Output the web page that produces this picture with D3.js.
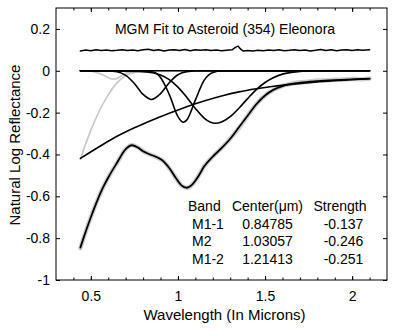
<!DOCTYPE html>
<html>
<head>
<meta charset="utf-8">
<script src="https://cdn.jsdelivr.net/npm/d3@7"></script>
<style>
  body { margin: 0; background: #fff; }
  svg text { font-family: "Liberation Sans", Arial, Helvetica, sans-serif; fill: #000; }
  .axis path { display: none; }
  .axis line { stroke: #000; stroke-width: 1; }
  .axis text { font-size: 14px; }
</style>
</head>
<body>
<div id="chart"></div>
<script>
// Tick labels
var xTicks = [0.5, 1, 1.5, 2];
var yTicks = [0.2, 0, -0.2, -0.4, -0.6, -0.8, -1];

// Residual (offset to ~0.1)
var residWl  = [0.44, 0.47, 0.50, 0.53, 0.56, 0.59, 0.62, 0.65, 0.68, 0.71, 0.74, 0.77, 0.80, 0.83, 0.86, 0.89, 0.92, 0.95, 0.98, 1.01, 1.04, 1.07, 1.10, 1.13, 1.16, 1.19, 1.22, 1.25, 1.28, 1.31, 1.33, 1.345, 1.36, 1.375, 1.40, 1.43, 1.46, 1.49, 1.52, 1.55, 1.58, 1.61, 1.64, 1.67, 1.70, 1.73, 1.76, 1.79, 1.82, 1.85, 1.88, 1.91, 1.94, 1.97, 2.00, 2.03, 2.06, 2.10];
var residVal = [0.094, 0.099, 0.096, 0.100, 0.097, 0.099, 0.096, 0.098, 0.101, 0.097, 0.099, 0.096, 0.100, 0.103, 0.097, 0.100, 0.095, 0.099, 0.101, 0.097, 0.102, 0.096, 0.100, 0.098, 0.101, 0.097, 0.099, 0.096, 0.098, 0.100, 0.112, 0.118, 0.103, 0.094, 0.097, 0.095, 0.098, 0.096, 0.099, 0.097, 0.100, 0.096, 0.098, 0.101, 0.097, 0.099, 0.095, 0.098, 0.102, 0.097, 0.100, 0.096, 0.099, 0.101, 0.097, 0.100, 0.098, 0.100];

// Zero line
var zeroWl  = [0.44, 2.10];
var zeroVal = [0, 0];

// Gray bands (UV and small 0.63 band)
var uvWl  = [0.44, 0.47, 0.50, 0.55, 0.60, 0.65, 0.70, 0.75, 0.80, 0.85, 2.10];
var uvVal = [-0.424, -0.35, -0.285, -0.19, -0.115, -0.058, -0.024, -0.008, -0.002, 0, 0];
var smallWl  = [0.44, 0.50, 0.55, 0.58, 0.61, 0.63, 0.65, 0.68, 0.71, 0.75, 0.80, 2.10];
var smallVal = [0, -0.002, -0.013, -0.024, -0.037, -0.04, -0.037, -0.022, -0.01, -0.002, 0, 0];

// Black bands
var m11Wl  = [0.44, 0.60, 0.65, 0.70, 0.75, 0.80, 0.848, 0.90, 0.95, 1.00, 1.05, 1.10, 2.10];
var m11Val = [0, -0.001, -0.005, -0.022, -0.061, -0.113, -0.137, -0.109, -0.057, -0.019, -0.004, -0.001, 0];
var m2Wl  = [0.44, 0.85, 0.90, 0.95, 1.00, 1.031, 1.05, 1.10, 1.15, 1.20, 1.25, 2.10];
var m2Val = [0, -0.005, -0.032, -0.113, -0.219, -0.246, -0.236, -0.140, -0.046, -0.008, -0.001, 0];
var m12Wl  = [0.44, 0.75, 0.80, 0.85, 0.90, 0.95, 1.00, 1.05, 1.10, 1.15, 1.214, 1.25, 1.30, 1.35, 1.40, 1.45, 1.50, 1.55, 1.60, 1.65, 1.70, 1.75, 1.80, 2.10];
var m12Val = [0, -0.001, -0.003, -0.009, -0.020, -0.042, -0.078, -0.126, -0.180, -0.226, -0.251, -0.245, -0.219, -0.179, -0.133, -0.090, -0.056, -0.032, -0.016, -0.008, -0.003, -0.001, 0, 0];

// Continuum
var contWl  = [0.44, 0.55, 0.65, 0.75, 0.85, 0.95, 1.05, 1.15, 1.25, 1.35, 1.45, 1.55, 1.65, 1.75, 1.85, 1.95, 2.05, 2.10];
var contVal = [-0.419, -0.362, -0.313, -0.272, -0.236, -0.203, -0.172, -0.145, -0.121, -0.101, -0.086, -0.074, -0.065, -0.057, -0.050, -0.045, -0.040, -0.038];

// Spectrum (observed, gray) and MGM fit (black)
var obsWl  = [0.44, 0.47, 0.50, 0.53, 0.56, 0.60, 0.65, 0.70, 0.735, 0.77, 0.80, 0.84, 0.88, 0.91, 0.95, 0.99, 1.02, 1.05, 1.08, 1.12, 1.15, 1.20, 1.25, 1.30, 1.34, 1.40, 1.45, 1.50, 1.55, 1.60, 1.65, 1.70, 1.75, 1.80, 1.85, 1.90, 1.95, 2.00, 2.05, 2.10];
var obsVal = [-0.848, -0.77, -0.70, -0.635, -0.575, -0.51, -0.44, -0.375, -0.355, -0.366, -0.384, -0.40, -0.414, -0.428, -0.465, -0.515, -0.548, -0.560, -0.545, -0.500, -0.458, -0.41, -0.37, -0.325, -0.285, -0.215, -0.16, -0.118, -0.090, -0.072, -0.062, -0.055, -0.052, -0.047, -0.046, -0.043, -0.042, -0.039, -0.040, -0.037];
var fitWl  = [0.44, 0.47, 0.50, 0.53, 0.56, 0.60, 0.65, 0.70, 0.735, 0.77, 0.80, 0.84, 0.88, 0.91, 0.95, 0.99, 1.02, 1.05, 1.08, 1.12, 1.15, 1.20, 1.25, 1.30, 1.35, 1.40, 1.45, 1.50, 1.55, 1.60, 1.65, 1.70, 1.80, 1.90, 2.00, 2.10];
var fitVal = [-0.845, -0.77, -0.70, -0.635, -0.575, -0.51, -0.44, -0.375, -0.356, -0.367, -0.385, -0.40, -0.413, -0.428, -0.465, -0.515, -0.548, -0.559, -0.545, -0.500, -0.458, -0.41, -0.37, -0.325, -0.27, -0.215, -0.16, -0.118, -0.090, -0.073, -0.063, -0.057, -0.050, -0.045, -0.041, -0.038];

// Band table
var bandNames     = ["M1-1", "M2", "M1-2"];
var bandCenters   = ["0.84785", "1.03057", "1.21413"];
var bandStrengths = ["-0.137", "-0.246", "-0.251"];

function pairs(xs, ys) {
  return xs.map(function(d, i) { return [d, ys[i]]; });
}

// Margin conventions
var margin = {top: 8, right: 16, bottom: 51, left: 56};
var width = 403 - margin.left - margin.right,
    height = 331 - margin.top - margin.bottom;

var svg = d3.select("#chart")
            .append("svg")
            .attr("width", 403)
            .attr("height", 331)
            .append("g")
            .attr("transform", "translate(" + margin.left + "," + margin.top + ")");

var xScale = d3.scaleLinear().domain([0.3, 2.2]).range([0, width]);
var yScale = d3.scaleLinear().domain([-1, 0.3]).range([height, 0]);

var fmt = function(d) { return String(d); };
var xMinor = d3.range(0.4, 2.15, 0.1);

// Bottom axis: labels + inward ticks
svg.append("g")
   .attr("class", "axis")
   .attr("transform", "translate(0," + height + ")")
   .call(d3.axisBottom(xScale).tickValues(xMinor).tickSize(-2.5).tickSizeOuter(0).tickFormat(""));
svg.append("g")
   .attr("class", "axis")
   .attr("transform", "translate(0," + height + ")")
   .call(d3.axisBottom(xScale).tickValues(xTicks).tickSize(-4).tickSizeOuter(0).tickPadding(11).tickFormat(fmt));

// Top axis
svg.append("g")
   .attr("class", "axis")
   .call(d3.axisTop(xScale).tickValues(xMinor).tickSize(-2.5).tickSizeOuter(0).tickFormat(""));
svg.append("g")
   .attr("class", "axis")
   .call(d3.axisTop(xScale).tickValues(xTicks).tickSize(-4).tickSizeOuter(0).tickFormat(""));

// Left + right axes
svg.append("g")
   .attr("class", "axis")
   .call(d3.axisLeft(yScale).tickValues(yTicks).tickSize(-4).tickSizeOuter(0).tickPadding(6).tickFormat(fmt));
svg.append("g")
   .attr("class", "axis")
   .attr("transform", "translate(" + width + ",0)")
   .call(d3.axisRight(yScale).tickValues(yTicks).tickSize(-4).tickSizeOuter(0).tickFormat(""));

// Frame
svg.append("rect")
   .attr("x", 0).attr("y", 0)
   .attr("width", width).attr("height", height)
   .attr("fill", "none")
   .attr("stroke", "#000")
   .attr("stroke-width", 1);

var line = d3.line()
             .x(function(d) { return xScale(d[0]); })
             .y(function(d) { return yScale(d[1]); })
             .curve(d3.curveMonotoneX);

function draw(data, color, w, curve) {
  svg.append("path")
     .datum(data)
     .attr("fill", "none")
     .attr("stroke", color)
     .attr("stroke-width", w)
     .attr("stroke-linejoin", "round")
     .attr("stroke-linecap", "round")
     .attr("d", line.curve(curve || d3.curveMonotoneX)(data));
}

// Gray curves underneath
draw(pairs(uvWl, uvVal), "#c8c8c8", 1.6);
draw(pairs(smallWl, smallVal), "#c8c8c8", 1.6);
draw(pairs(obsWl, obsVal), "#cfcfcf", 4.5);

// Black curves
draw(pairs(zeroWl, zeroVal), "#000", 1.6);
draw(pairs(m11Wl, m11Val), "#000", 1.6);
draw(pairs(m2Wl, m2Val), "#000", 1.6);
draw(pairs(m12Wl, m12Val), "#000", 1.6);
draw(pairs(contWl, contVal), "#000", 1.6);
draw(pairs(fitWl, fitVal), "#000", 1.8);
draw(pairs(residWl, residVal), "#000", 1.5, d3.curveLinear);

// Title
svg.append("text")
   .attr("x", 169).attr("y", 26)
   .attr("text-anchor", "middle")
   .style("font-size", "14px")
   .text("MGM Fit to Asteroid (354) Eleonora");

// Axis titles
svg.append("text")
   .attr("x", width / 2 + 3).attr("y", height + 40)
   .attr("text-anchor", "middle")
   .style("font-size", "15px")
   .text("Wavelength (In Microns)");

svg.append("text")
   .attr("transform", "translate(" + (20 - margin.left) + "," + (145 - margin.top) + ") rotate(-90)")
   .attr("text-anchor", "middle")
   .style("font-size", "15px")
   .text("Natural Log Reflectance");

// Band table
var table = svg.append("g").style("font-size", "14px");
table.append("text").attr("x", 132).attr("y", 203).text("Band");
table.append("text").attr("x", 211.5).attr("y", 203).attr("text-anchor", "middle").text("Center(μm)");
table.append("text").attr("x", 284).attr("y", 203).attr("text-anchor", "middle").text("Strength");

bandNames.forEach(function(name, i) {
  var y = 220.5 + i * 17.8;
  table.append("text").attr("x", 136).attr("y", y).text(name);
  table.append("text").attr("x", 211.5).attr("y", y).attr("text-anchor", "middle").text(bandCenters[i]);
  table.append("text").attr("x", 287.5).attr("y", y).attr("text-anchor", "middle").text(bandStrengths[i]);
});
</script>
</body>
</html>
